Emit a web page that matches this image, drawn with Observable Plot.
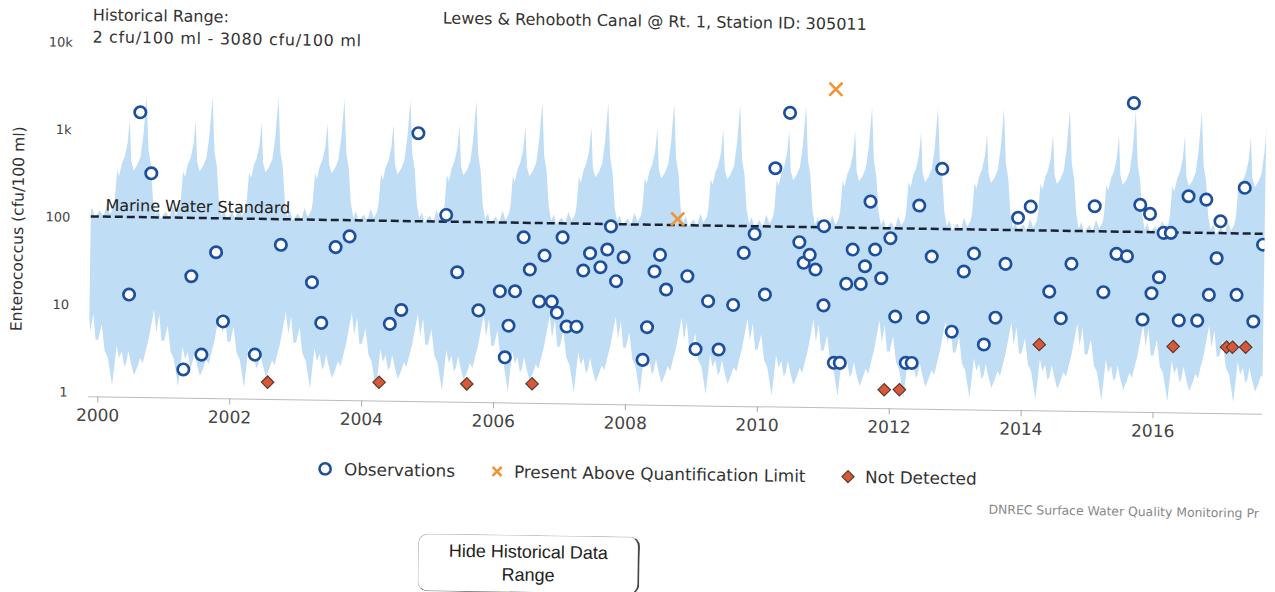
<!DOCTYPE html>
<html>
<head>
<meta charset="utf-8">
<script src="https://cdn.jsdelivr.net/npm/d3@7"></script>
<script src="https://cdn.jsdelivr.net/npm/@observablehq/plot@0.6"></script>
<style>
  html, body { margin: 0; padding: 0; background: #fff; overflow: hidden; width: 1275px; height: 592px; }
  #page { position: relative; width: 1275px; height: 592px; transform: rotate(0.85deg); transform-origin: 0 0;
          font-family: "DejaVu Sans", sans-serif; color: #333; }
  .abs { position: absolute; white-space: nowrap; }
  #chart { position: absolute; left: 0; top: 0; }
  .legend-item { position: absolute; font-size: 16.8px; line-height: 20px; color: #333; white-space: nowrap; }
  .mk { position: absolute; }
  #hide-btn { position: absolute; left: 426px; top: 527px; width: 222px; height: 58px; background: #fff;
              border: 1px solid #c4c4c4; border-right: 2px solid #444; border-bottom: 1.5px solid #777; border-radius: 10px;
              font-family: "Liberation Sans", Arial, sans-serif; font-size: 18px; line-height: 23px; color: #222; padding: 0; }
</style>
</head>
<body>
<div id="page">
  <div id="chart"></div>
  <div class="abs" style="left:93px; top:4px; font-size:16px; line-height:19px;">Historical Range:</div>
  <div class="abs" style="left:93px; top:26px; font-size:16px; line-height:19px; letter-spacing:0.7px;">2 cfu/100 ml - 3080 cfu/100 ml</div>
  <div class="abs" style="left:443px; top:2px; font-size:16px; line-height:19px;">Lewes &amp; Rehoboth Canal @ Rt. 1, Station ID: 305011</div>

  <svg class="mk" style="left:325px; top:457px;" width="14" height="14"><circle cx="7" cy="7" r="5.6" fill="#fff" stroke="#1d4f9f" stroke-width="2.6"/></svg>
  <div class="legend-item" style="left:351px; top:454px;">Observations</div>
  <svg class="mk" style="left:497px; top:457px;" width="14" height="14"><path d="M2.5,2.5L11.5,11.5M11.5,2.5L2.5,11.5" stroke="#f29433" stroke-width="2.6"/></svg>
  <div class="legend-item" style="left:521px; top:454px;">Present Above Quantification Limit</div>
  <svg class="mk" style="left:848px; top:457px;" width="14" height="14"><path d="M7,1L13,7L7,13L1,7Z" fill="#d8583c" stroke="#5b3a2c" stroke-width="1.2"/></svg>
  <div class="legend-item" style="left:872px; top:454px;">Not Detected</div>

  <div class="abs" style="left:996px; top:488px; font-size:12.4px; line-height:14px; color:#888;">DNREC Surface Water Quality Monitoring Pr</div>

  <button id="hide-btn">Hide Historical Data<br>Range</button>
</div>
<script>
// ---- Observations (decimal year, cfu/100 ml) ----
const obsYear = [2000.45, 2000.58, 2000.76, 2001.29, 2001.39, 2001.56, 2001.76, 2001.88, 2002.37, 2002.74,
  2003.22, 2003.37, 2003.57, 2003.78, 2004.41, 2004.58, 2004.80, 2005.24, 2005.42, 2005.75,
  2006.07, 2006.16, 2006.21, 2006.30, 2006.42, 2006.52, 2006.67, 2006.74, 2006.86, 2006.94,
  2007.01, 2007.09, 2007.24, 2007.33, 2007.43, 2007.59, 2007.69, 2007.74, 2007.83, 2007.94,
  2008.25, 2008.31, 2008.41, 2008.49, 2008.59, 2008.91, 2009.05, 2009.23, 2009.40, 2009.61,
  2009.76, 2009.92, 2010.09, 2010.22, 2010.43, 2010.60, 2010.67, 2010.76, 2010.85, 2010.97,
  2010.98, 2011.15, 2011.24, 2011.32, 2011.41, 2011.54, 2011.60, 2011.67, 2011.75, 2011.85,
  2011.98, 2012.07, 2012.24, 2012.33, 2012.41, 2012.49, 2012.61, 2012.75, 2012.93, 2013.10,
  2013.25, 2013.42, 2013.59, 2013.73, 2013.91, 2014.10, 2014.40, 2014.58, 2014.73, 2015.07,
  2015.22, 2015.41, 2015.57, 2015.64, 2015.76, 2015.82, 2015.91, 2015.95, 2016.06, 2016.12,
  2016.23, 2016.37, 2016.49, 2016.65, 2016.76, 2016.82, 2016.93, 2016.98, 2017.24, 2017.34,
  2017.50, 2017.63];
const obsValue = [13.5, 1640, 331, 1.92, 22.4, 2.86, 42.5, 6.9, 2.92, 53,
  20, 6.9, 51, 68, 6.9, 10, 1054, 124, 27.6, 10.2,
  17, 3.0, 6.9, 17.1, 71, 30.5, 13.2, 44.3, 13.2, 9.9,
  72, 6.9, 6.9, 30.3, 47.9, 33.3, 53.2, 98, 23.2, 43.7,
  2.96, 7.0, 30.4, 47.2, 19, 27.2, 4.0, 14.2, 4.0, 13,
  51.4, 85, 17.3, 482, 2084, 69.5, 40.5, 50.1, 34.1, 107,
  13.3, 2.95, 2.95, 23.7, 58.5, 23.8, 37.9, 208, 59, 27.8,
  80, 10.2, 3.03, 3.03, 191, 10.1, 50.2, 507, 7.0, 34.3,
  55.2, 5.06, 10.3, 42.6, 144, 194, 20.9, 10.4, 43.8, 201,
  21, 57.9, 54.6, 3080, 212, 10.4, 168, 20.8, 31.8, 102.5,
  102.8, 10.3, 271, 10.3, 250, 20.4, 53.7, 142, 20.6, 346,
  10.3, 78];

// ---- Present above quantification limit ----
const pqlYear = [2008.75, 2011.12];
const pqlValue = [122, 3950];

// ---- Not detected ----
const ndYear = [2002.57, 2004.26, 2005.59, 2006.58, 2011.92, 2012.15, 2014.26, 2016.29, 2017.10, 2017.19, 2017.39];
const ndValue = [1.42, 1.48, 1.47, 1.51, 1.48, 1.49, 5.17, 5.17, 5.18, 5.19, 5.22];

// ---- Historical range profile across one year (fraction of year, low, high) ----
const bandFrac = [0, 0.05, 0.10, 0.15, 0.20, 0.22, 0.25, 0.28, 0.32, 0.36, 0.40, 0.43, 0.46, 0.50, 0.55, 0.60, 0.64, 0.68, 0.72, 0.76, 0.80, 0.84, 0.88, 0.92, 0.96];
const bandLow  = [4, 6, 3, 2.5, 1.5, 1.2, 2, 3.5, 2.5, 3, 2, 2.2, 3, 2.2, 1.6, 2, 2.5, 2.2, 3, 4, 6, 9, 5, 8, 4];
const bandHigh = [120, 100, 140, 110, 130, 160, 350, 300, 420, 500, 700, 1300, 450, 350, 400, 500, 900, 2500, 600, 400, 160, 110, 130, 100, 110];
const bandYears = [1999, 2000, 2001, 2002, 2003, 2004, 2005, 2006, 2007, 2008, 2009, 2010, 2011, 2012, 2013, 2014, 2015, 2016, 2017];

const standardValue = 104;
const standardLabel = "Marine Water Standard";
const xTicks = [2000, 2002, 2004, 2006, 2008, 2010, 2012, 2014, 2016];
const yTicks = [1, 10, 100, 1000, 10000];
const yTickLabels = ["1", "10", "100", "1k", "10k"];
const yLabel = "Enterococcus (cfu/100 ml)";

// ---- build tables ----
const obs = obsYear.map((t, i) => ({t, v: obsValue[i]}));
const pql = pqlYear.map((t, i) => ({t, v: pqlValue[i]}));
const nd = ndYear.map((t, i) => ({t, v: ndValue[i]}));
const band = [];
for (const yr of bandYears) bandFrac.forEach((f, i) => band.push({t: yr + f, lo: bandLow[i], hi: bandHigh[i]}));

const chart = Plot.plot({
  width: 1275,
  height: 440,
  marginLeft: 94,
  marginRight: 7,
  marginTop: 41,
  marginBottom: 45,
  style: {fontFamily: "DejaVu Sans, sans-serif", fontSize: "15px", color: "#333", background: "transparent", overflow: "visible"},
  x: {type: "linear", domain: [1999.86, 2017.66]},
  y: {type: "log", domain: [0.9, 10000]},
  marks: [
    Plot.areaY(band, {x: "t", y1: "lo", y2: "hi", fill: "#c0ddf6", curve: "linear", clip: true}),
    Plot.ruleY([0.9], {stroke: "#bbb", strokeWidth: 1}),
    Plot.axisX({ticks: xTicks, tickFormat: d => String(d), tickSize: 6, tickPadding: 6, fontSize: 17, fill: "#444", stroke: "#aaa", label: null}),
    Plot.axisY({ticks: yTicks, tickFormat: d => yTickLabels[yTicks.indexOf(d)], tickSize: 0, tickPadding: 21, fontSize: 13, fill: "#444", label: null}),
    Plot.text([yLabel], {frameAnchor: "left", textAnchor: "middle", rotate: -90, dx: -73, dy: 10, fontSize: 15.6, fill: "#333"}),
    Plot.ruleY([standardValue], {stroke: "#1b2233", strokeWidth: 2.5, strokeDasharray: "8,4"}),
    Plot.text([standardValue], {y: d => d, frameAnchor: "left", text: () => standardLabel, textAnchor: "start", dx: 14, dy: -11, fontSize: 16, fill: "#222"}),
    Plot.dot(obs, {x: "t", y: "v", r: 5.7, fill: "#fff", stroke: "#1d4f9f", strokeWidth: 2.7, clip: true}),
    Plot.dot(pql, {x: "t", y: "v", symbol: "times", r: 6, stroke: "#f29433", strokeWidth: 2.6, clip: true}),
    Plot.dot(nd, {x: "t", y: "v", symbol: "diamond2", r: 5.6, fill: "#d8583c", stroke: "#5b3a2c", strokeWidth: 1.2, clip: true})
  ]
});
document.getElementById("chart").appendChild(chart);
</script>
</body>
</html>
